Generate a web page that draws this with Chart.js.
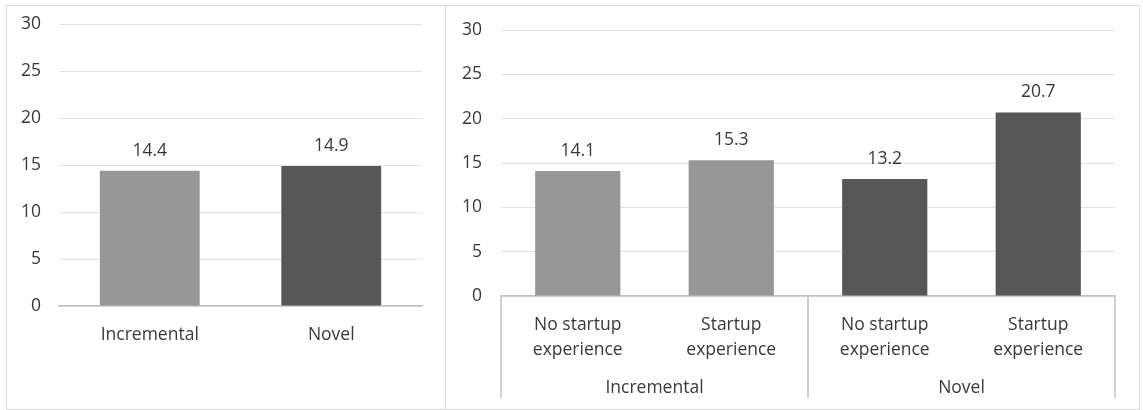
<!DOCTYPE html>
<html>
<head>
<meta charset="utf-8">
<script src="https://cdn.jsdelivr.net/npm/chart.js@4"></script>
<style>
  body { margin: 0; background: #fff; width: 1143px; height: 410px; position: relative; overflow: hidden; }
  #frame { position: absolute; left: 6px; top: 5px; width: 1132px; height: 403px; border: 1px solid #d9d9d9; }
  #divider { position: absolute; left: 445px; top: 5px; width: 1px; height: 405px; background: #d9d9d9; }
  #overall { position: absolute; left: 7px; top: 6px; }
  #byExperience { position: absolute; left: 446px; top: 6px; }
</style>
</head>
<body>
<div id="frame"></div>
<div id="divider"></div>
<canvas id="overall" width="438" height="402"></canvas>
<canvas id="byExperience" width="692" height="402"></canvas>
<script>
// mean values by idea type
const ideaTypes = ["Incremental", "Novel"];
const ideaTypeValues = [14.4, 14.9];

// split by founder startup experience, grouped by idea type
const experienceLabels = [
  ["No startup", "experience"],
  ["Startup", "experience"],
  ["No startup", "experience"],
  ["Startup", "experience"]
];
const experienceGroups = ["Incremental", "Novel"];
const experienceGroupOf = [0, 0, 1, 1];
const experienceValues = [14.1, 15.3, 13.2, 20.7];

const yTicks = [0, 5, 10, 15, 20, 25, 30];

const lightGrey = "#979797";
const darkGrey = "#575757";
const textColor = "#383838";
const axisColor = "#bfbfbf";
const fontFamily = "'Open Sans'";
const fontSize = 17.5;

const valueLabels = {
  id: "valueLabels",
  afterDatasetsDraw(chart) {
    const ctx = chart.ctx;
    const values = chart.data.datasets[0].data;
    ctx.save();
    ctx.font = fontSize + "px " + fontFamily;
    ctx.fillStyle = textColor;
    ctx.textAlign = "center";
    ctx.textBaseline = "middle";
    chart.getDatasetMeta(0).data.forEach((bar, i) => {
      ctx.fillText(values[i].toFixed(1), bar.x, bar.y - 20);
    });
    ctx.restore();
  }
};

// second row of the category axis: group boxes and names
const groupAxis = {
  id: "groupAxis",
  afterDraw(chart) {
    const ctx = chart.ctx;
    const x = chart.scales.x;
    const area = chart.chartArea;
    const lineBottom = area.bottom + 102;
    const n = experienceGroupOf.length;
    ctx.save();
    ctx.strokeStyle = axisColor;
    ctx.lineWidth = 1.5;
    ctx.font = fontSize + "px " + fontFamily;
    ctx.fillStyle = textColor;
    ctx.textAlign = "center";
    ctx.textBaseline = "middle";
    let start = area.left;
    const edges = [start];
    experienceGroups.forEach((name, g) => {
      const idx = experienceGroupOf.map((v, i) => (v === g ? i : -1)).filter(i => i >= 0);
      const last = idx[idx.length - 1];
      const end = last === n - 1 ? area.right
        : (x.getPixelForValue(last) + x.getPixelForValue(last + 1)) / 2;
      edges.push(end);
      ctx.fillText(name, (start + end) / 2, area.bottom + 92);
      start = end;
    });
    edges.forEach(e => {
      ctx.beginPath();
      ctx.moveTo(e, area.bottom);
      ctx.lineTo(e, lineBottom);
      ctx.stroke();
    });
    ctx.restore();
  }
};

function buildOptions(yWidth, yPad, xHeight, xPad, lineHeight, topPad) {
  return {
    responsive: false,
    animation: false,
    layout: { padding: { top: topPad, right: 23, left: 0, bottom: 0 } },
    plugins: { legend: { display: false }, tooltip: { enabled: false } },
    scales: {
      x: {
        grid: { display: false, drawTicks: false },
        border: { color: axisColor, width: 1.5 },
        ticks: {
          color: textColor,
          padding: xPad,
          maxRotation: 0,
          font: { family: fontFamily, size: fontSize, lineHeight: lineHeight }
        },
        afterFit(scale) { scale.height = xHeight; }
      },
      y: {
        min: 0,
        max: 30,
        afterBuildTicks(scale) { scale.ticks = yTicks.map(v => ({ value: v })); },
        grid: { color: "#e2e2e2", drawTicks: false },
        border: { display: false },
        ticks: {
          color: textColor,
          padding: yPad,
          font: { family: fontFamily, size: fontSize }
        },
        afterFit(scale) {
          // tick padding should not push the plot area down
          scale.width = yWidth;
          scale.paddingTop = 0;
          scale.paddingBottom = 0;
        }
      }
    }
  };
}

new Chart(document.getElementById("overall"), {
  type: "bar",
  data: {
    labels: ideaTypes,
    datasets: [{
      data: ideaTypeValues,
      backgroundColor: [lightGrey, darkGrey],
      categoryPercentage: 1,
      barPercentage: 0.55
    }]
  },
  options: buildOptions(52, 18, 102, 19, 1.2, 18),
  plugins: [valueLabels]
});

new Chart(document.getElementById("byExperience"), {
  type: "bar",
  data: {
    labels: experienceLabels,
    datasets: [{
      data: experienceValues,
      backgroundColor: experienceGroupOf.map(g => (g === 0 ? lightGrey : darkGrey)),
      categoryPercentage: 1,
      barPercentage: 0.555
    }]
  },
  options: buildOptions(55, 19, 112, 17, "25px", 24),
  plugins: [valueLabels, groupAxis]
});
</script>
</body>
</html>
